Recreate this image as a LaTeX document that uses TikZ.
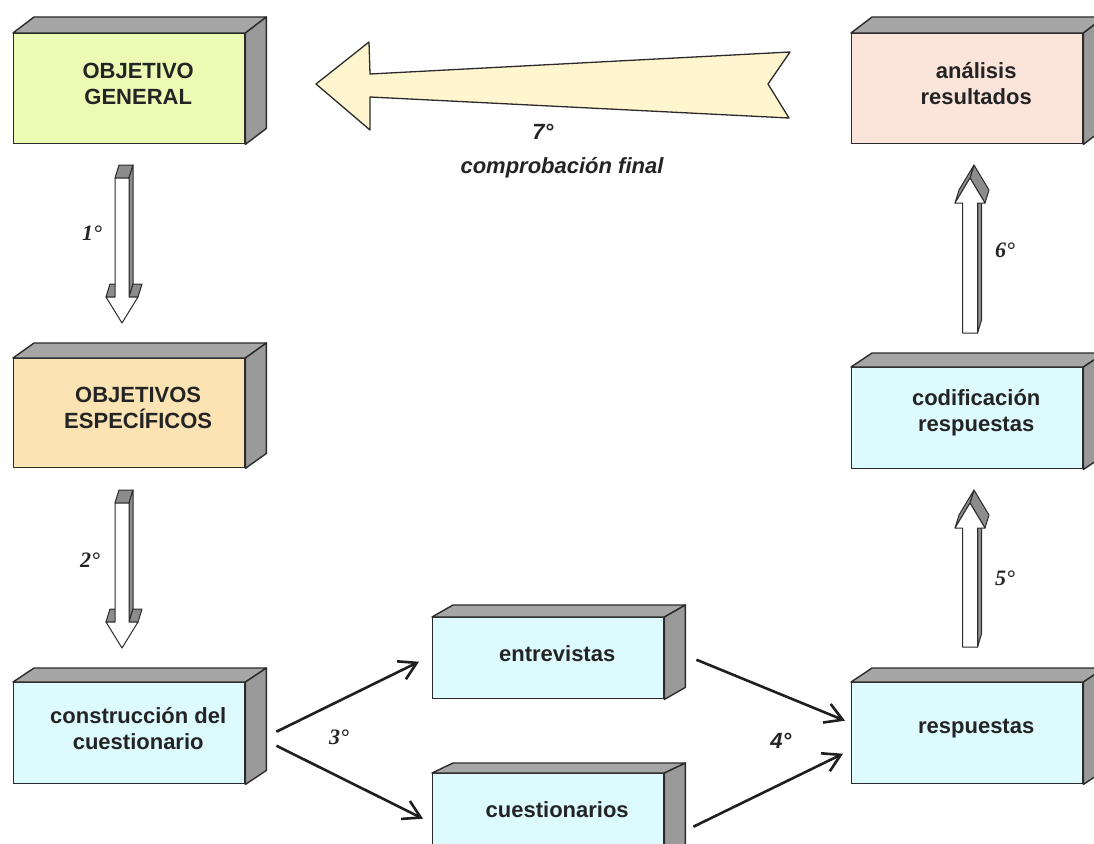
\documentclass[tikz,border=0pt]{standalone}
\usepackage{fontspec}
\setmainfont{Liberation Sans}
\newfontfamily\serifit{Liberation Serif}
\usetikzlibrary{arrows.meta,calc}

\definecolor{edge}{HTML}{2B2B2B}
\definecolor{txt}{HTML}{242424}
\definecolor{grtop}{HTML}{A6A6A6}
\definecolor{grside}{HTML}{9A9A9A}
\definecolor{grblock}{HTML}{8C8C8C}
\definecolor{lima}{HTML}{ECFAB4}
\definecolor{melocoton}{HTML}{FBE3B3}
\definecolor{celeste}{HTML}{DDFBFF}
\definecolor{rosado}{HTML}{FBE4DA}
\definecolor{crema}{HTML}{FFF6CF}

\tikzset{
  caja/.style={rectangle, draw=edge, line width=1.4pt, minimum width=231pt,
    inner sep=0pt, anchor=north west},
  cara/.style={draw=edge, line width=1.4pt, line join=round},
  rotulo/.style={font=\fontsize{22pt}{26pt}\selectfont\bfseries, text=txt,
    align=center, inner sep=0pt},
  paso/.style={font=\fontsize{22pt}{26pt}\selectfont\serifit\bfseries\itshape, text=txt, inner sep=0pt},
  pasosans/.style={font=\fontsize{22pt}{26pt}\selectfont\bfseries\itshape, text=txt, inner sep=0pt},
  bloque/.style={draw=edge, line width=1pt, line join=round},
  enlace/.style={draw=black!88, line width=2.6pt,
    -{Straight Barb[length=17pt,width=20pt]}},
}

% 3D box: name, x, y (top-left of front face), height, depth rise, fill, text
\newcommand{\cajatres}[7]{%
  \node[caja, fill=#6, minimum height=#4pt] (#1) at (#2,#3) {};
  \draw[cara, fill=grtop] (#1.north west) -- ++(21,-#5)
     -- ($(#1.north east)+(21,-#5)$) -- (#1.north east) -- cycle;
  \draw[cara, fill=grside] (#1.north east) -- ++(21,-#5)
     -- ($(#1.south east)+(21,-#5)$) -- (#1.south east) -- cycle;
  \node[rotulo] (#1-t) at ($(#1.center)+(9,-5)$) {#7};
}

% downward block arrow: centre x, top y, head y, tip y
\newcommand{\flechaabajo}[4]{%
  \path (#1-7,#2) coordinate (a1) (#1+7,#2) coordinate (a2)
        (#1+7,#3) coordinate (a3) (#1+16,#3) coordinate (a4)
        (#1,#4) coordinate (a5) (#1-16,#3) coordinate (a6)
        (#1-7,#3) coordinate (a7);
  \draw[bloque, fill=grblock] (a1) -- (a2) -- ++(4,-13) -- ($(a1)+(4,-13)$) -- cycle;
  \draw[bloque, fill=grblock] (a2) -- (a3) -- ++(4,-13) -- ($(a2)+(4,-13)$) -- cycle;
  \draw[bloque, fill=grblock] (a3) -- (a4) -- ++(4,-13) -- ($(a3)+(4,-13)$) -- cycle;
  \draw[bloque, fill=grblock] (a6) -- (a7) -- ++(4,-13) -- ($(a6)+(4,-13)$) -- cycle;
  \draw[bloque, fill=white] (a1) -- (a2) -- (a3) -- (a4) -- (a5) -- (a6) -- (a7) -- cycle;
}

% upward block arrow: centre x, bottom y, head y, tip y
\newcommand{\flechaarriba}[4]{%
  \path (#1-7.5,#2) coordinate (b1) (#1+7.5,#2) coordinate (b2)
        (#1+7.5,#3) coordinate (b3) (#1+15,#3) coordinate (b4)
        (#1,#4) coordinate (b5) (#1-15,#3) coordinate (b6)
        (#1-7.5,#3) coordinate (b7);
  \draw[bloque, fill=grblock] (b2) -- (b3) -- ++(4,-13) -- ($(b2)+(4,-13)$) -- cycle;
  \draw[bloque, fill=grblock] (b4) -- (b5) -- ++(4,-13) -- ($(b4)+(4,-13)$) -- cycle;
  \draw[bloque, fill=grblock] (b5) -- (b6) -- ++(4,-13) -- ($(b5)+(4,-13)$) -- cycle;
  \draw[bloque, fill=white] (b1) -- (b2) -- (b3) -- (b4) -- (b5) -- (b6) -- (b7) -- cycle;
}

\begin{document}
\begin{tikzpicture}[x=1pt, y=-1pt]
  \clip (0,0) rectangle (1094,843);
  \fill[white] (0,0) rectangle (1094,843);

  % boxes
  \cajatres{og}{13}{33}{110}{16}{lima}{OBJETIVO\\GENERAL}
  \cajatres{oe}{13}{358}{109}{15}{melocoton}{OBJETIVOS\\ESPECÍFICOS}
  \cajatres{cc}{13}{682}{101}{14}{celeste}{construcción del\\cuestionario}
  \cajatres{en}{432}{617}{81}{12}{celeste}{entrevistas}
  \cajatres{cu}{432}{773}{81}{10}{celeste}{cuestionarios}
  \cajatres{re}{851}{682}{101}{14}{celeste}{respuestas}
  \cajatres{co}{851}{367}{101}{14}{celeste}{codificación\\respuestas}
  \cajatres{an}{851}{33}{110}{16}{rosado}{análisis\\resultados}

  % block arrows between stacked boxes
  \flechaabajo{122}{178}{297}{323}
  \flechaabajo{122}{503}{622}{648}
  \flechaarriba{970}{647}{528}{503}
  \flechaarriba{970}{333}{203}{178}

  % wide return arrow
  \draw[draw=edge, line width=1.3pt, line join=round, fill=crema]
    (316,84) -- (369,42) -- (370,74) -- (790,52) -- (768,84)
    -- (789,118) -- (370,97) -- (370,130) -- cycle;

  % line connectors
  \draw[enlace] ([xshift=31pt,yshift=1.5pt]cc.east) -- ([xshift=-13pt,yshift=-3.5pt]en.west);
  \draw[enlace] ([xshift=31pt,yshift=-12.5pt]cc.east) -- ([xshift=-9pt,yshift=-4.5pt]cu.west);
  \draw[enlace] ([xshift=32pt,yshift=-1.5pt]en.east) -- ([xshift=-6pt,yshift=12.5pt]re.west);
  \draw[enlace] ([xshift=29pt,yshift=-12.5pt]cu.east) -- ([xshift=-8pt,yshift=-20.5pt]re.west);

  % step labels
  \node[paso] (p1) at (92,233) {1°};
  \node[paso] (p2) at (90,560) {2°};
  \node[paso] (p3) at (339,737) {3°};
  \node[pasosans] (p4) at (781,741) {4°};
  \node[paso] (p5) at (1005,578) {5°};
  \node[paso] (p6) at (1005,250) {6°};
  \node[pasosans] (p7) at (543,132) {7°};
  \node[pasosans] (p7t) at (562,168) {comprobación final};
\end{tikzpicture}
\end{document}
